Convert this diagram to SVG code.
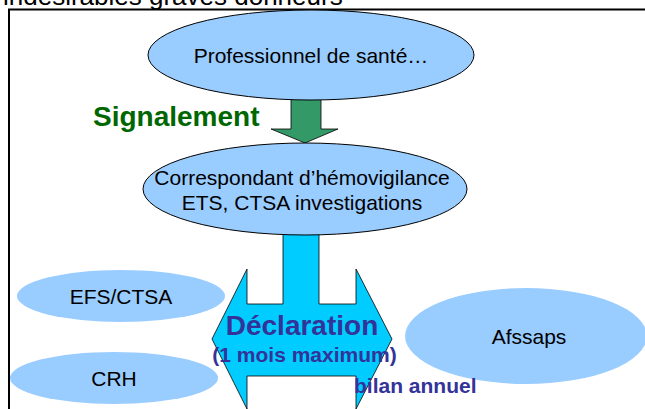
<svg xmlns="http://www.w3.org/2000/svg" width="645" height="409" viewBox="0 0 645 409">
<style>
text{font-family:"Liberation Sans",Arial,sans-serif}
.node{fill:#99CCFF;stroke:#000;stroke-width:1}
.soft{fill:#99CCFF;stroke:none}
.lbl{font-size:21px;fill:#000;text-anchor:middle}
.blue{fill:#333399;font-weight:bold}
</style>
<rect width="645" height="409" fill="#fff"/>
<text x="3" y="5" font-size="26" fill="#000">indésirables graves donneurs</text>
<path d="M9,409 V9.5 H645" fill="none" stroke="#000" stroke-width="2"/>
<g id="connectors">
<polygon id="signalement-arrow" points="291,98 321,98 321,129 338,129 305,143 271,129 291,129" fill="#339966" stroke="#000" stroke-width="0.8"/>
<text x="93" y="126" font-size="28" font-weight="bold" fill="#006600">Signalement</text>
<polygon id="declaration-arrow" points="283,226 319,226 319,304 356,304 356,269 392,339 356,409 356,376 247,376 247,409 212,339 247,269 247,304 283,304" fill="#00CCFF" stroke="#000" stroke-width="0.8"/>
</g>
<g id="professionnel">
<ellipse class="node" cx="311" cy="55" rx="163" ry="45"/>
<text class="lbl" x="311" y="63">Professionnel de santé…</text>
</g>
<g id="correspondant">
<ellipse class="node" cx="305" cy="189" rx="162" ry="46"/>
<text class="lbl" x="302" y="185">Correspondant d’hémovigilance</text>
<text class="lbl" x="302" y="210">ETS, CTSA investigations</text>
</g>
<g id="efs">
<ellipse class="soft" cx="121" cy="296" rx="104" ry="26"/>
<text class="lbl" x="121" y="304">EFS/CTSA</text>
</g>
<g id="crh">
<ellipse class="soft" cx="114" cy="378" rx="104" ry="26"/>
<text class="lbl" x="114" y="386">CRH</text>
</g>
<g id="afssaps">
<ellipse class="soft" cx="526" cy="336" rx="121" ry="48"/>
<text class="lbl" x="529" y="344">Afssaps</text>
</g>
<g id="declaration-labels">
<text class="blue" x="302" y="335" font-size="28" text-anchor="middle">Déclaration</text>
<text class="blue" x="304.5" y="362" font-size="21" text-anchor="middle">(1 mois maximum)</text>
<text class="blue" x="354" y="393" font-size="21">bilan annuel</text>
</g>
</svg>
